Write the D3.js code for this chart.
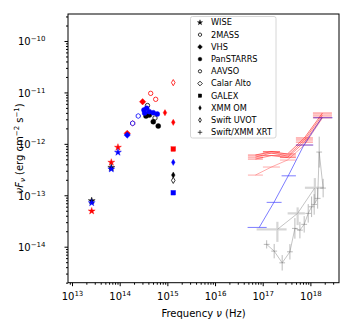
<!DOCTYPE html>
<html>
<head>
<meta charset="utf-8">
<script src="https://cdn.jsdelivr.net/npm/d3@7"></script>
<style>
  body { margin: 0; background: #fff; }
  svg text { font-family: "DejaVu Sans", sans-serif; }
</style>
</head>
<body>
<div id="chart"></div>
<script>
// Optical / IR photometry (Hz, erg cm^-2 s^-1)
let wiseNu = [2.59e13, 6.67e13, 9.2e13];
let wiseBlack = [7.82e-14, 3.46e-13, null];
let wiseBlue = [7.14e-14, 3.24e-13, 6.84e-13];
let wiseRed = [4.93e-14, 4.37e-13, 8.55e-13];

let twomassNu = [1.87e14, 2.45e14];
let twomassRed = [2.51e-12, null];
let twomassBlue = [2.51e-12, 3.48e-12];

let vhsNu = [1.44e14, 3.03e14];
let vhsRed = [1.60e-12, 6.59e-12];
let vhsBlue = [1.48e-12, null];

let psBlueNu = [3.23e14, 3.34e14, 3.68e14, 4.18e14, 5.06e14, 6.14e14];
let psBlue = [4.55e-12, 3.97e-12, 4.91e-12, 4.22e-12, 4.03e-12, 3.80e-12];
let psBlackNu = [3.56e14, 4.18e14, 5.06e14, 6.44e14];
let psBlack = [3.48e-12, 3.63e-12, 2.69e-12, 2.22e-12];

let aavsoRedNu = [4.47e14, 5.69e14];
let aavsoRed = [9.59e-12, 7.35e-12];
let aavsoBlackNu = [3.83e14, 5.50e14];
let aavsoBlack = [5.56e-12, 3.18e-12];

let xmmOmNu = [8.91e14, 1.33e15];
let xmmOmRed = [4.03e-12, 2.62e-12];
let xmmOmBlue = [null, 4.37e-13];
let xmmOmBlack = [null, 2.47e-13];

let uvNu = [1.33e15];
let uvotRed = [1.55e-11];
let uvotBlack = [1.95e-13];
let galexRed = [7.93e-13];
let galexBlue = [1.12e-13];

// X-ray spectra: bin low / centre / high frequency and flux
let xBlueLo = [4.82e16, 1.21e17, 2.49e17, 4.97e17, 1.15e18];
let xBlueNu = [8.45e16, 1.72e17, 3.43e17, 7.31e17, 1.74e18];
let xBlueHi = [1.21e17, 2.49e17, 4.97e17, 1.15e18, 2.92e18];
let xBlueF = [2.37e-14, 7.28e-14, 2.39e-13, 9.48e-13, 3.22e-12];

let xRedLo = [4.90e16, 1.01e17, 2.30e17, 4.97e17, 1.13e18];
let xRedNu = [7.03e16, 1.52e17, 3.30e17, 7.48e17, 1.79e18];
let xRedHi = [1.01e17, 2.30e17, 4.97e17, 1.13e18, 2.83e18];
let xRedA = [6.05e-13, 7.08e-13, 6.34e-13, 1.30e-12, 3.97e-12];
let xRedB = [5.53e-13, 6.62e-13, 5.79e-13, 1.19e-12, 3.63e-12];
let xRedC = [5.06e-13, 5.92e-13, 5.41e-13, 1.08e-12, 3.32e-12];
let xRedD = [2.47e-13, 3.54e-13, 4.84e-13, 9.48e-13, 3.18e-12];

let xGrayNu = [2.03e17, 5.40e17, 1.24e18];
let xGrayLo = [7.45e16, 3.33e17, 7.67e17];
let xGrayHi = [3.17e17, 7.67e17, 1.85e18];
let xGrayF = [2.17e-14, 4.45e-14, 1.40e-13];
let xGrayFLo = [1.24e-14, 2.63e-14, 7.05e-14];
let xGrayFHi = [3.05e-14, 5.82e-14, 2.16e-13];

let xThinNu = [1.21e17, 1.74e17, 2.56e17, 3.72e17, 4.73e17, 6.03e17, 7.41e17, 9.00e17, 1.06e18, 1.20e18, 1.42e18, 1.53e18, 1.85e18];
let xThinF = [1.11e-14, 8.20e-15, 4.86e-15, 7.96e-15, 2.27e-14, 2.10e-14, 2.72e-14, 4.45e-14, 5.97e-14, 6.65e-14, 8.71e-14, 6.92e-13, 1.38e-13];
let xThinErr = [0.08, 0.14, 0.15, 0.15, 0.2, 0.16, 0.16, 0.18, 0.2, 0.2, 0.2, 0.3, 0.18];

let legendNames = ["WISE", "2MASS", "VHS", "PanSTARRS", "AAVSO", "Calar Alto", "GALEX", "XMM OM", "Swift UVOT", "Swift/XMM XRT"];
let legendShapes = ["star", "hex", "vhs", "circle", "ocircle", "odiamond", "square", "thin", "othin", "plus"];

let xMajor = [1e13, 1e14, 1e15, 1e16, 1e17, 1e18];
let yMajor = [1e-14, 1e-13, 1e-12, 1e-11, 1e-10];

// Define SVG area dimensions
let svgWidth = 354;
let svgHeight = 332;
let margin = { top: 14, left: 68 };
let width = 271;
let height = 268.7;

let svg = d3.select("#chart").append("svg")
  .attr("width", svgWidth)
  .attr("height", svgHeight);

let chartGroup = svg.append("g")
  .attr("transform", `translate(${margin.left}, ${margin.top})`);

let x = d3.scaleLog().domain([Math.pow(10, 12.916), Math.pow(10, 18.6)]).range([0, width]);
let y = d3.scaleLog().domain([Math.pow(10, -14.70), Math.pow(10, -9.475)]).range([height, 0]);

// minor ticks
function minors(lo, hi) {
  let out = [];
  for (let e = lo; e <= hi; e++) {
    for (let m = 2; m <= 9; m++) out.push(m * Math.pow(10, e));
  }
  return out;
}
let xMinor = minors(12, 18).filter((v) => v >= x.domain()[0] && v <= x.domain()[1]);
let yMinor = minors(-15, -10).filter((v) => v >= y.domain()[0] && v <= y.domain()[1]);

function expLabel(sel, size) {
  sel.each(function (d) {
    let t = d3.select(this);
    let e = Math.round(Math.log10(d));
    t.text(null);
    t.append("tspan").text("10");
    t.append("tspan").attr("dy", -4).attr("font-size", size).text(String(e).replace("-", "\u2212"));
  });
}

// x axis
chartGroup.append("g")
  .attr("transform", `translate(0, ${height})`)
  .call(d3.axisBottom(x).tickValues(xMinor).tickSize(2).tickFormat(""))
  .call((g) => g.select(".domain").remove());
let xAxis = chartGroup.append("g")
  .attr("transform", `translate(0, ${height})`)
  .call(d3.axisBottom(x).tickValues(xMajor).tickSize(3.5).tickPadding(7));
xAxis.select(".domain").remove();
xAxis.selectAll(".tick text").attr("font-size", 10).attr("fill", "#000").call(expLabel, 7);

// y axis
chartGroup.append("g")
  .call(d3.axisLeft(y).tickValues(yMinor).tickSize(2).tickFormat(""))
  .call((g) => g.select(".domain").remove());
let yAxis = chartGroup.append("g")
  .call(d3.axisLeft(y).tickValues(yMajor).tickSize(3.5).tickPadding(19));
yAxis.select(".domain").remove();
yAxis.selectAll(".tick text").attr("font-size", 10).attr("fill", "#000").attr("dy", "0.4em").call(expLabel, 7);

// frame
chartGroup.append("rect")
  .attr("width", width).attr("height", height)
  .attr("fill", "none").attr("stroke", "#000").attr("stroke-width", 1);

// axis labels
let xLabel = svg.append("text")
  .attr("x", margin.left + width / 2)
  .attr("y", 316.5)
  .attr("text-anchor", "middle")
  .attr("font-size", 10);
xLabel.append("tspan").text("Frequency ");
xLabel.append("tspan").attr("font-style", "italic").text("\u03bd");
xLabel.append("tspan").text(" (Hz)");

let yLabel = svg.append("text")
  .attr("transform", `translate(23, ${margin.top + height / 2}) rotate(-90)`)
  .attr("text-anchor", "middle")
  .attr("font-size", 10);
yLabel.append("tspan").attr("font-style", "italic").text("\u03bdF");
yLabel.append("tspan").attr("font-style", "italic").attr("font-size", 7).attr("dy", 2).text("\u03bd");
yLabel.append("tspan").attr("dy", -2).text(" (erg  cm");
yLabel.append("tspan").attr("font-size", 7).attr("dy", -4).text("\u22122");
yLabel.append("tspan").attr("dy", 4).text("  s");
yLabel.append("tspan").attr("font-size", 7).attr("dy", -4).text("\u22121");
yLabel.append("tspan").attr("dy", 4).text(")");

function applyAttrs(el, a) {
  Object.keys(a).forEach((k) => el.attr(k, a[k]));
}

// marker drawing
function drawMarker(g, shape, cx, cy, color, s) {
  s = s || 1;
  let open = { fill: "#fff", stroke: color, "stroke-width": 0.8 };
  let filled = { fill: color, stroke: color, "stroke-width": 0.4 };
  let el;
  if (shape === "star") {
    el = g.append("path").attr("d", d3.symbol(d3.symbolStar, 15 * s * s)());
    applyAttrs(el, filled);
  } else if (shape === "hex") {
    let r = 2.4 * s;
    let pts = d3.range(6).map((i) => [r * Math.cos(Math.PI / 6 + i * Math.PI / 3), r * Math.sin(Math.PI / 6 + i * Math.PI / 3)]);
    el = g.append("path").attr("d", "M" + pts.join("L") + "Z");
    applyAttrs(el, open);
  } else if (shape === "vhs") {
    let r = 3.2 * s;
    el = g.append("path").attr("d", `M0,${-r}L${r},0L0,${r}L${-r},0Z`);
    applyAttrs(el, filled);
  } else if (shape === "circle") {
    el = g.append("circle").attr("r", 2.5 * s);
    applyAttrs(el, filled);
  } else if (shape === "ocircle") {
    el = g.append("circle").attr("r", 2.2 * s);
    applyAttrs(el, open);
  } else if (shape === "odiamond") {
    let r = 3.1 * s;
    el = g.append("path").attr("d", `M0,${-r}L${r},0L0,${r}L${-r},0Z`);
    applyAttrs(el, open);
  } else if (shape === "square") {
    let r = 2.3 * s;
    el = g.append("rect").attr("x", -r).attr("y", -r).attr("width", 2 * r).attr("height", 2 * r);
    applyAttrs(el, filled);
  } else if (shape === "thin" || shape === "othin") {
    let w = 1.8 * s, h = 3.1 * s;
    el = g.append("path").attr("d", `M0,${-h}L${w},0L0,${h}L${-w},0Z`);
    applyAttrs(el, shape === "thin" ? filled : open);
  } else if (shape === "plus") {
    let r = 3 * s;
    el = g.append("path").attr("d", `M${-r},0H${r}M0,${-r}V${r}`);
    applyAttrs(el, { fill: "none", stroke: color, "stroke-width": 0.7 });
  }
  el.attr("transform", `translate(${cx}, ${cy})`);
}

function plotSet(nu, flux, shape, color) {
  let g = chartGroup.append("g");
  nu.forEach((n, i) => {
    if (flux[i] == null) return;
    drawMarker(g, shape, x(n), y(flux[i]), color);
  });
}

// X-ray spectra: line + horizontal bin bars
let line = d3.line().x((d) => x(d[0])).y((d) => y(d[1]));
function spectrum(lo, nu, hi, flux, color, opacity) {
  let g = chartGroup.append("g").attr("opacity", opacity);
  g.append("path")
    .attr("d", line(nu.map((n, i) => [n, flux[i]])))
    .attr("fill", "none").attr("stroke", color).attr("stroke-width", 0.6);
  nu.forEach((n, i) => {
    g.append("line")
      .attr("x1", x(lo[i])).attr("x2", x(hi[i]))
      .attr("y1", y(flux[i])).attr("y2", y(flux[i]))
      .attr("stroke", color).attr("stroke-width", 0.6);
  });
}

spectrum(xRedLo, xRedNu, xRedHi, xRedD, "#ff0000", 0.55);
spectrum(xRedLo, xRedNu, xRedHi, xRedC, "#ff0000", 0.8);
spectrum(xRedLo, xRedNu, xRedHi, xRedB, "#ff0000", 0.8);
spectrum(xRedLo, xRedNu, xRedHi, xRedA, "#ff0000", 0.9);
spectrum(xBlueLo, xBlueNu, xBlueHi, xBlueF, "#0000ff", 0.85);

// gray binned spectrum with thick light error bars
let grayG = chartGroup.append("g");
xGrayNu.forEach((n, i) => {
  grayG.append("line")
    .attr("x1", x(xGrayLo[i])).attr("x2", x(xGrayHi[i]))
    .attr("y1", y(xGrayF[i])).attr("y2", y(xGrayF[i]))
    .attr("stroke", "#d6d6d6").attr("stroke-width", 2.2);
  grayG.append("line")
    .attr("x1", x(n)).attr("x2", x(n))
    .attr("y1", y(xGrayFLo[i])).attr("y2", y(xGrayFHi[i]))
    .attr("stroke", "#d6d6d6").attr("stroke-width", 2.2);
});
grayG.append("path")
  .attr("d", line(xGrayNu.map((n, i) => [n, xGrayF[i]])))
  .attr("fill", "none").attr("stroke", "#888").attr("stroke-width", 0.5);

// thin gray spectrum
let thinG = chartGroup.append("g");
thinG.append("path")
  .attr("d", line(xThinNu.map((n, i) => [n, xThinF[i]])))
  .attr("fill", "none").attr("stroke", "#888").attr("stroke-width", 0.5);
xThinNu.forEach((n, i) => {
  let f = xThinF[i];
  let e = xThinErr[i];
  thinG.append("line")
    .attr("x1", x(n)).attr("x2", x(n))
    .attr("y1", y(f * Math.pow(10, -e))).attr("y2", y(f * Math.pow(10, e)))
    .attr("stroke", "#777").attr("stroke-width", 0.5);
  thinG.append("line")
    .attr("x1", x(n / 1.15)).attr("x2", x(n * 1.15))
    .attr("y1", y(f)).attr("y2", y(f))
    .attr("stroke", "#777").attr("stroke-width", 0.5);
});

// photometry
plotSet(wiseNu, wiseRed, "star", "#ff0000");
plotSet(wiseNu, wiseBlack, "star", "#000");
plotSet(wiseNu, wiseBlue, "star", "#0000ff");
plotSet(vhsNu, vhsRed, "vhs", "#ff0000");
plotSet(vhsNu, vhsBlue, "vhs", "#0000ff");
plotSet(twomassNu, twomassRed, "hex", "#ff0000");
plotSet(twomassNu, twomassBlue, "hex", "#0000ff");
plotSet(aavsoRedNu, aavsoRed, "ocircle", "#ff0000");
plotSet(aavsoBlackNu, aavsoBlack, "ocircle", "#000");
plotSet(psBlackNu, psBlack, "circle", "#000");
plotSet(psBlueNu, psBlue, "circle", "#0000ff");
plotSet(xmmOmNu, xmmOmRed, "thin", "#ff0000");
plotSet(xmmOmNu, xmmOmBlue, "thin", "#0000ff");
plotSet(xmmOmNu, xmmOmBlack, "thin", "#000");
plotSet(uvNu, uvotRed, "othin", "#ff0000");
plotSet(uvNu, uvotBlack, "othin", "#000");
plotSet(uvNu, galexRed, "square", "#ff0000");
plotSet(uvNu, galexBlue, "square", "#0000ff");

// legend
let legend = svg.append("g");
legend.append("rect")
  .attr("x", 190.5).attr("y", 16.5)
  .attr("width", 85.5).attr("height", 121.5)
  .attr("rx", 2)
  .attr("fill", "#fff").attr("fill-opacity", 0.85)
  .attr("stroke", "#ccc").attr("stroke-width", 0.8);
legendNames.forEach((name, i) => {
  let ly = 22.5 + i * 12.2;
  drawMarker(legend, legendShapes[i], 200, ly, "#000", 0.75);
  legend.append("text")
    .attr("x", 211).attr("y", ly)
    .attr("dy", "0.35em")
    .attr("font-size", 8.2)
    .text(name);
});
</script>
</body>
</html>
